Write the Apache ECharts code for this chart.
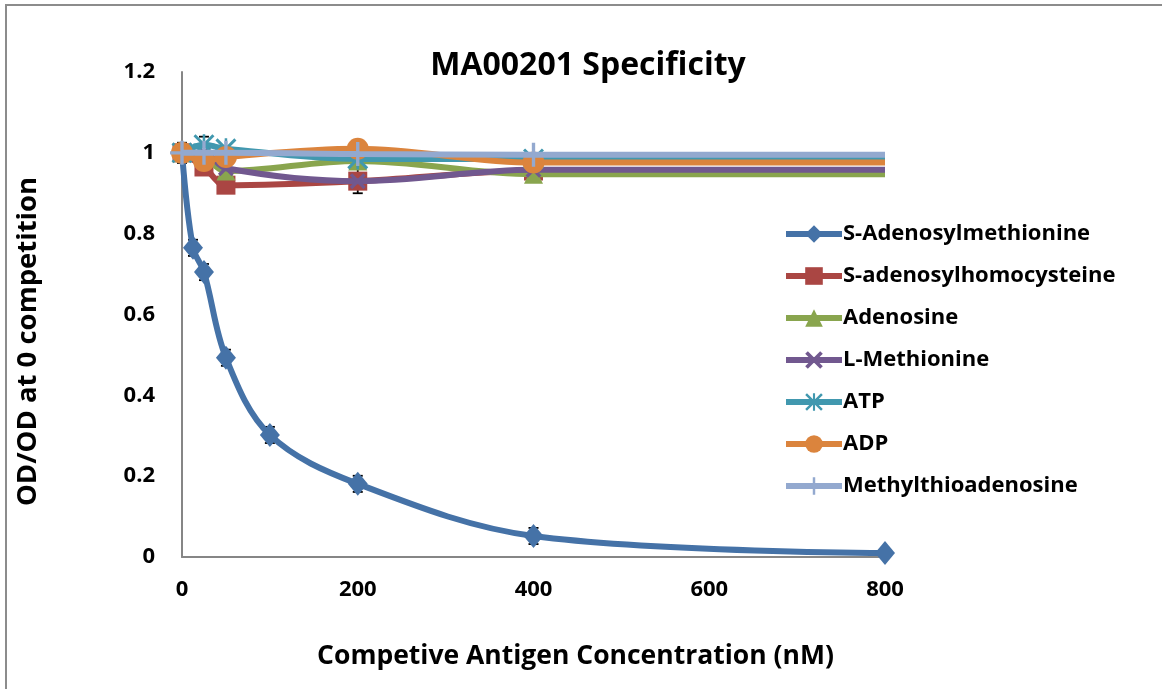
<!DOCTYPE html>
<html><head><meta charset="utf-8">
<script src="https://cdn.jsdelivr.net/npm/echarts@6/dist/echarts.min.js"></script>
<style>html,body{margin:0;padding:0;background:#fff}#c{width:1162px;height:689px}</style>
</head><body><div id="c"></div>
<script>
var samX = [0, 12.5, 25, 50, 100, 200, 400, 800];
var samY = [1.0, 0.765, 0.705, 0.493, 0.302, 0.181, 0.052, 0.01];
var samErr = [0.02, 0.02, 0.02, 0.02, 0.02, 0.02, 0.02, 0.01];
var otherX = [0, 25, 50, 200, 400, 800];
var sahY = [1.0, 0.965, 0.92, 0.93, 0.955, 0.955];
var adoY = [1.0, 0.99, 0.955, 0.98, 0.947, 0.947];
var metY = [1.0, 1.0, 0.962, 0.93, 0.958, 0.958];
var atpY = [1.0, 1.02, 1.01, 0.985, 0.985, 0.985];
var adpY = [1.0, 0.98, 0.99, 1.01, 0.976, 0.976];
var mtaY = [1.0, 1.0, 1.0, 0.997, 0.995, 0.995];
var errX = [0, 25, 200];
var sahErrY = [1.0, 0.965, 0.93];
var sahErr = [0.02, 0.01, 0.03];
var atpErrY = [1.0, 1.02];
var atpErr = [0.025, 0.02];
var names = ['S-Adenosylmethionine','S-adenosylhomocysteine','Adenosine','L-Methionine','ATP','ADP','Methylthioadenosine'];
var colors = ['#4572A7','#AA4643','#89A54E','#71588F','#4198AF','#DB843D','#93A9CF'];
var yTicks = [0, 0.2, 0.4, 0.6, 0.8, 1, 1.2];
var xTicks = [0, 200, 400, 600, 800];

var FONT = 'Open Sans';
var xSym = 'path://M0,1.5L1.5,0L10,8.5L8.5,10Z M8.5,0L10,1.5L1.5,10L0,8.5Z';
var plusSym = 'path://M4.3,0H5.7V10H4.3Z M0,4.3H10V5.7H0Z';
var starSym = 'path://M4.4,0H5.6V10H4.4Z M0,4.4H10V5.6H0Z M0,1L1,0L10,9L9,10Z M9,0L10,1L1,10L0,9Z';
var symbols = ['diamond','rect','triangle',xSym,starSym,'circle',plusSym];
var sizes = [[20,24],19,19,16,21,22,24];

function pairs(xs, ys, lastNone) {
  return xs.map(function (x, i) {
    var d = {value: [x, ys[i]]};
    if (lastNone && i === xs.length - 1) d.symbol = 'none';
    return d;
  });
}
function errData(xs, ys, es) { return es.map(function (e, i) { return [xs[i], ys[i], e]; }); }

var seriesYs = [samY, sahY, adoY, metY, atpY, adpY, mtaY];
var series = seriesYs.map(function (ys, i) {
  var xs = i === 0 ? samX : otherX;
  return {
    name: names[i], type: 'line', smooth: 0.35,
    data: pairs(xs, ys, i !== 0),
    symbol: symbols[i], symbolSize: sizes[i],
    showAllSymbol: true,
    lineStyle: {color: colors[i], width: 6},
    itemStyle: {color: colors[i]},
    z: 2 + i
  };
});

function errorSeries(d) {
  return {
    type: 'custom', z: 1, silent: true,
    renderItem: function (params, api) {
      var x = api.value(0), y = api.value(1), e = api.value(2);
      var hi = api.coord([x, y + e]), lo = api.coord([x, y - e]);
      var w = 5;
      var st = {stroke: '#000', lineWidth: 1.8};
      return {type: 'group', children: [
        {type: 'line', shape: {x1: hi[0], y1: hi[1], x2: lo[0], y2: lo[1]}, style: st},
        {type: 'line', shape: {x1: hi[0]-w, y1: hi[1], x2: hi[0]+w, y2: hi[1]}, style: st},
        {type: 'line', shape: {x1: lo[0]-w, y1: lo[1], x2: lo[0]+w, y2: lo[1]}, style: st}
      ]};
    },
    data: d
  };
}
series.unshift(errorSeries(errData(samX, samY, samErr)));
series.unshift(errorSeries(errData(errX, sahErrY, sahErr)));
series.unshift(errorSeries(errData(errX, atpErrY, atpErr)));

var chart = echarts.init(document.getElementById('c'), null, {renderer: 'canvas'});
chart.setOption({
  animation: false,
  backgroundColor: '#fff',
  textStyle: {fontFamily: FONT},
  title: {text: 'MA00201 Specificity', left: 583, top: 45, textAlign: 'center',
    textStyle: {fontFamily: FONT, fontWeight: 'bold', fontSize: 32, color: '#000'}},
  legend: {
    orient: 'vertical', left: 778, top: 218, itemGap: 20,
    itemWidth: 56, itemHeight: 22,
    data: names,
    lineStyle: {width: 6},
    textStyle: {fontFamily: FONT, fontWeight: 'bold', fontSize: 22, color: '#000', padding: [0,0,0,-4]}
  },
  graphic: [{type: 'polyline', shape: {points: [[6, 700], [6, 5], [1170, 5]]},
    style: {stroke: '#8c8c8c', lineWidth: 2, fill: null}}],
  grid: {left: 182, right: 277, top: 72, bottom: 132},
  xAxis: {
    type: 'value', min: 0, max: 800, interval: 200,
    name: 'Competive Antigen Concentration (nM)', nameLocation: 'middle', nameGap: 86,
    nameTextStyle: {fontFamily: FONT, fontWeight: 'bold', fontSize: 26.5, color: '#000', padding: [0,0,0,84]},
    axisLine: {show: true, lineStyle: {color: '#868686', width: 2}},
    axisTick: {show: false}, splitLine: {show: false},
    axisLabel: {fontFamily: FONT, fontWeight: 'bold', fontSize: 22, color: '#000', margin: 22,
      formatter: function (v) { return xTicks.indexOf(v) >= 0 ? String(v) : ''; }}
  },
  yAxis: {
    type: 'value', min: 0, max: 1.2, interval: 0.2,
    name: 'OD/OD at 0 competition', nameLocation: 'middle', nameGap: 140, nameRotate: 90,
    nameTextStyle: {fontFamily: FONT, fontWeight: 'bold', fontSize: 27.5, color: '#000', padding: [0,54,0,0]},
    axisLine: {show: true, lineStyle: {color: '#868686', width: 2}},
    axisTick: {show: false}, splitLine: {show: false},
    axisLabel: {fontFamily: FONT, fontWeight: 'bold', fontSize: 22, color: '#000', margin: 27,
      formatter: function (v) { var t = yTicks.filter(function (k) { return Math.abs(k - v) < 1e-9; }); return t.length ? String(t[0]) : ''; }}
  },
  series: series
});
</script></body></html>
